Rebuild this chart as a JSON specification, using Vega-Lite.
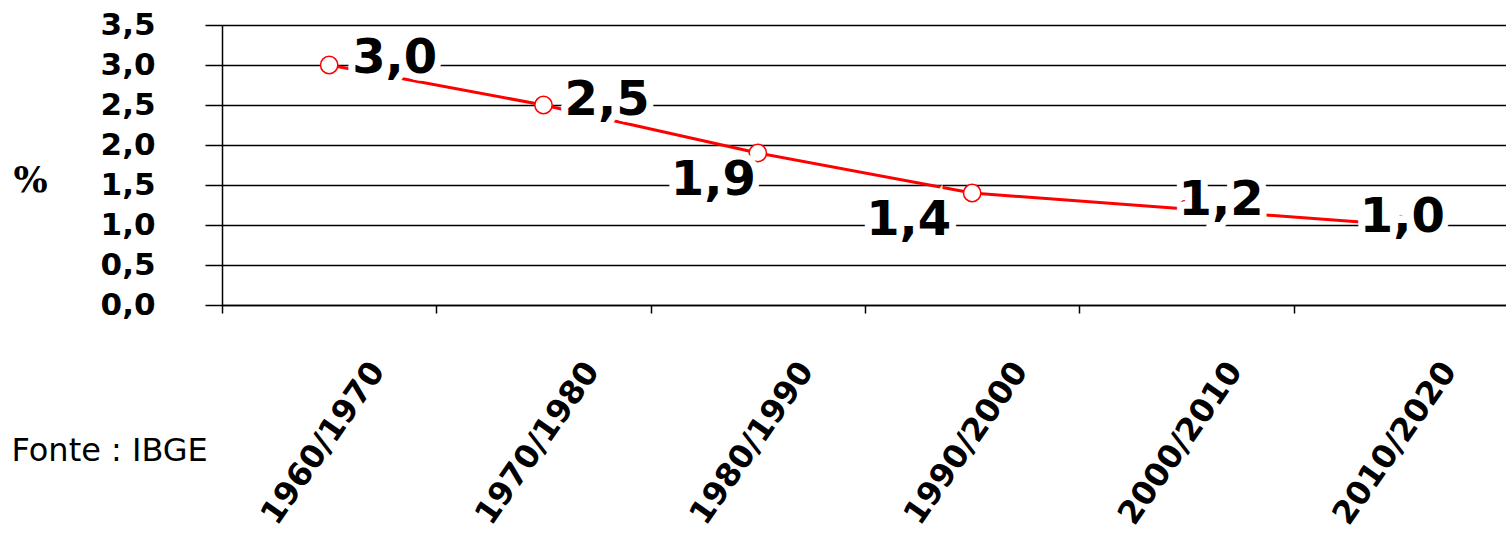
{
  "$schema": "https://vega.github.io/schema/vega-lite/v6.json",
  "width": 1286,
  "height": 280,
  "autosize": {"type": "none"},
  "padding": {"left": 222, "top": 25, "right": 0, "bottom": 232},
  "background": "white",
  "config": {"view": {"stroke": null}, "font": "DejaVu Sans"},
  "data": {
    "values": [
      {"period": "1960/1970", "rate": 3.0, "label": "3,0"},
      {"period": "1970/1980", "rate": 2.5, "label": "2,5"},
      {"period": "1980/1990", "rate": 1.9, "label": "1,9"},
      {"period": "1990/2000", "rate": 1.4, "label": "1,4"},
      {"period": "2000/2010", "rate": 1.2, "label": "1,2"},
      {"period": "2010/2020", "rate": 1.0, "label": "1,0"}
    ]
  },
  "encoding": {
    "x": {
      "field": "period", "type": "nominal", "sort": null,
      "scale": {"type": "band", "paddingInner": 0, "paddingOuter": 0},
      "axis": {
        "title": "Fonte : IBGE", "tickBand": "extent",
        "labelAngle": -55, "labelAlign": "right", "labelBaseline": "middle",
        "labelOffset": 48, "labelPadding": 52, "labelLimit": 0,
        "labelFont": "DejaVu Sans", "labelFontWeight": "bold", "labelFontSize": 32, "labelColor": "black",
        "tickColor": "black", "tickSize": 8, "tickWidth": 1.5,
        "domainColor": "black", "domainWidth": 1.5, "grid": false,
        "titleAngle": 0, "titleX": -211, "titleY": 145, "titleAlign": "left", "titleBaseline": "middle",
        "titleFont": "DejaVu Sans", "titleFontWeight": "normal", "titleFontSize": 32, "titleColor": "black"
      }
    },
    "y": {
      "field": "rate", "type": "quantitative",
      "scale": {"domain": [0, 3.5]},
      "axis": {
        "title": "%", "titleAngle": 0, "titleFont": "DejaVu Serif", "titleFontSize": 36, "titleFontWeight": "bold",
        "titleColor": "black", "titleX": -192, "titleY": 155, "titleAlign": "center", "titleBaseline": "middle",
        "values": [0, 0.5, 1, 1.5, 2, 2.5, 3, 3.5],
        "labelExpr": "replace(format(datum.value, '.1f'), '.', ',')",
        "grid": true, "gridColor": "black", "gridWidth": 1.5, "gridOpacity": 1,
        "tickColor": "black", "tickSize": 17, "tickWidth": 1.5,
        "domainColor": "black", "domainWidth": 1.5,
        "labelPadding": 50, "labelFontSize": 31, "labelFontWeight": "bold", "labelColor": "black",
        "labelFont": "DejaVu Sans"
      }
    }
  },
  "layer": [
    {"mark": {"type": "line", "color": "#ff0000", "strokeWidth": 3}},
    {"mark": {"type": "point", "shape": "circle", "filled": true, "fill": "white", "stroke": "#ff0000", "strokeWidth": 1.5, "size": 300, "opacity": 1}},

    {"transform": [{"filter": "datum.label == '3,0'"}], "mark": {"type": "text", "align": "left", "baseline": "alphabetic", "dx": 23, "dy": 8, "fontSize": 48, "fontWeight": "bold", "stroke": "white", "strokeWidth": 14, "strokeJoin": "miter", "fill": "white"}, "encoding": {"text": {"field": "label"}}},
    {"transform": [{"filter": "datum.label == '3,0'"}], "mark": {"type": "text", "align": "left", "baseline": "alphabetic", "dx": 23, "dy": 8, "fontSize": 48, "fontWeight": "bold", "color": "black"}, "encoding": {"text": {"field": "label"}}},

    {"transform": [{"filter": "datum.label == '2,5'"}], "mark": {"type": "text", "align": "left", "baseline": "alphabetic", "dx": 21, "dy": 10, "fontSize": 48, "fontWeight": "bold", "stroke": "white", "strokeWidth": 14, "strokeJoin": "miter", "fill": "white"}, "encoding": {"text": {"field": "label"}}},
    {"transform": [{"filter": "datum.label == '2,5'"}], "mark": {"type": "text", "align": "left", "baseline": "alphabetic", "dx": 21, "dy": 10, "fontSize": 48, "fontWeight": "bold", "color": "black"}, "encoding": {"text": {"field": "label"}}},

    {"transform": [{"filter": "datum.label == '1,9'"}], "mark": {"type": "text", "align": "right", "baseline": "alphabetic", "dx": -2, "dy": 42, "fontSize": 48, "fontWeight": "bold", "stroke": "white", "strokeWidth": 14, "strokeJoin": "miter", "fill": "white"}, "encoding": {"text": {"field": "label"}}},
    {"transform": [{"filter": "datum.label == '1,9'"}], "mark": {"type": "text", "align": "right", "baseline": "alphabetic", "dx": -2, "dy": 42, "fontSize": 48, "fontWeight": "bold", "color": "black"}, "encoding": {"text": {"field": "label"}}},

    {"transform": [{"filter": "datum.label == '1,4'"}], "mark": {"type": "text", "align": "right", "baseline": "alphabetic", "dx": -21, "dy": 42, "fontSize": 48, "fontWeight": "bold", "stroke": "white", "strokeWidth": 14, "strokeJoin": "miter", "fill": "white"}, "encoding": {"text": {"field": "label"}}},
    {"transform": [{"filter": "datum.label == '1,4'"}], "mark": {"type": "text", "align": "right", "baseline": "alphabetic", "dx": -21, "dy": 42, "fontSize": 48, "fontWeight": "bold", "color": "black"}, "encoding": {"text": {"field": "label"}}},

    {"transform": [{"filter": "datum.label == '1,2'"}], "mark": {"type": "text", "align": "left", "baseline": "alphabetic", "dx": -8, "dy": 6, "fontSize": 48, "fontWeight": "bold", "stroke": "white", "strokeWidth": 14, "strokeJoin": "miter", "fill": "white"}, "encoding": {"text": {"field": "label"}}},
    {"transform": [{"filter": "datum.label == '1,2'"}], "mark": {"type": "text", "align": "left", "baseline": "alphabetic", "dx": -8, "dy": 6, "fontSize": 48, "fontWeight": "bold", "color": "black"}, "encoding": {"text": {"field": "label"}}},

    {"transform": [{"filter": "datum.label == '1,0'"}], "mark": {"type": "text", "align": "left", "baseline": "alphabetic", "dx": -41, "dy": 7, "fontSize": 48, "fontWeight": "bold", "stroke": "white", "strokeWidth": 14, "strokeJoin": "miter", "fill": "white"}, "encoding": {"text": {"field": "label"}}},
    {"transform": [{"filter": "datum.label == '1,0'"}], "mark": {"type": "text", "align": "left", "baseline": "alphabetic", "dx": -41, "dy": 7, "fontSize": 48, "fontWeight": "bold", "color": "black"}, "encoding": {"text": {"field": "label"}}}
  ]
}
